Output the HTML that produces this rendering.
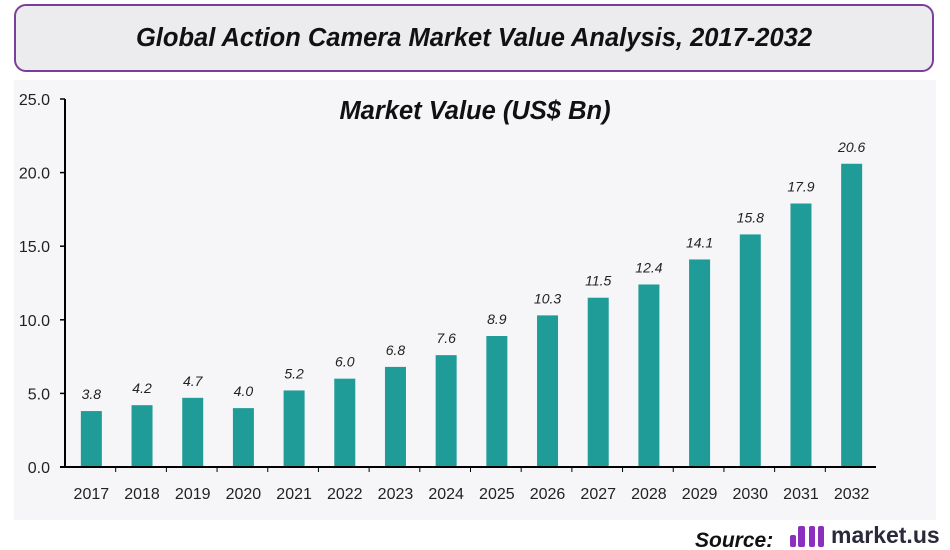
<!DOCTYPE html>
<html><head><meta charset="utf-8"><style>
body{margin:0;width:950px;height:550px;background:#fff;font-family:"Liberation Sans",Calibri,sans-serif;overflow:hidden;position:relative}
#tb{position:absolute;left:14px;top:4px;width:920px;height:68px;border:2px solid #7a3f9a;border-radius:12px;background:#ececef;box-sizing:border-box;display:flex;align-items:center;justify-content:center;font-weight:bold;font-style:italic;font-size:25.5px;color:#111}
#bg{position:absolute;left:14px;top:80px;width:922px;height:440px;background:#f6f6f8}
svg{position:absolute;left:0;top:0}
</style></head><body>
<div id="tb">Global Action Camera Market Value Analysis, 2017-2032</div>
<div id="bg"></div>
<svg id="c" width="950" height="550"></svg>
<script>
const categories=["2017","2018","2019","2020","2021","2022","2023","2024","2025","2026","2027","2028","2029","2030","2031","2032"];
const values=[3.8,4.2,4.7,4.0,5.2,6.0,6.8,7.6,8.9,10.3,11.5,12.4,14.1,15.8,17.9,20.6];
const yTicks=[0,5,10,15,20,25];
const NS="http://www.w3.org/2000/svg";
const svg=document.getElementById('c');
const x0=65,x1=876,y0=467,yTop=99,ymax=25;
const step=(x1-x0)/categories.length;
const y=v=>y0-(v/ymax)*(y0-yTop);
const xc=i=>x0+step*(i+0.5)+1;
function mk(t,a,txt){const e=document.createElementNS(NS,t);for(const k in a)e.setAttribute(k,a[k]);if(txt!==undefined)e.textContent=txt;svg.appendChild(e);return e;}
let e=mk('text',{x:475,y:119,'text-anchor':'middle','font-size':25.5,'font-weight':'bold','font-style':'italic',fill:'#111'},'Market Value (US$ Bn)');


yTicks.forEach(t=>{
 let l=mk('line',{x1:x0-5,x2:x0,y1:y(t),y2:y(t),stroke:'#000','stroke-width':1.5});
 
 
 let tx=mk('text',{x:50,y:y(t)+6,'text-anchor':'end','font-size':16,fill:'#222'},t.toFixed(1));
 
 
});
values.forEach((v,i)=>{
 const w=21;
 let r=mk('rect',{x:xc(i)-w/2,y:y(v),width:w,height:y0-y(v),fill:'#1f9c97'});
 
 
 let t=mk('text',{x:xc(i),y:y(v)-12,'text-anchor':'middle','font-size':14,'font-style':'italic',fill:'#222'},v.toFixed(1));
 
 
 let c=mk('text',{x:xc(i),y:499,'text-anchor':'middle','font-size':16,fill:'#222'},categories[i]);
 
 
 if(i>0){let tk=mk('line',{x1:x0+step*i,x2:x0+step*i,y1:y0,y2:y0+5,stroke:'#000','stroke-width':1});
 
 }
});
let ax=mk('line',{x1:x0,x2:x0,y1:yTop,y2:y0,stroke:'#000','stroke-width':2});


let bx=mk('line',{x1:x0-5,x2:x1,y1:y0,y2:y0,stroke:'#000','stroke-width':2});


let s=mk('text',{x:695,y:547,'font-size':21,'font-weight':'bold','font-style':'italic',fill:'#111'},'Source:');


let g=mk('g',{});


[[790,535,6,12],[798,526,7,21],[809,526,6,21],[818,526,6,21]].forEach(b=>{const r=document.createElementNS(NS,'rect');r.setAttribute('x',b[0]);r.setAttribute('y',b[1]);r.setAttribute('width',b[2]);r.setAttribute('height',b[3]);r.setAttribute('rx',2);r.setAttribute('fill','#8a2fc0');g.appendChild(r);});
let lt=mk('text',{x:831,y:543,'font-size':23,'font-weight':'bold',fill:'#2a2a3a'},'market.us');


</script>
</body></html>
